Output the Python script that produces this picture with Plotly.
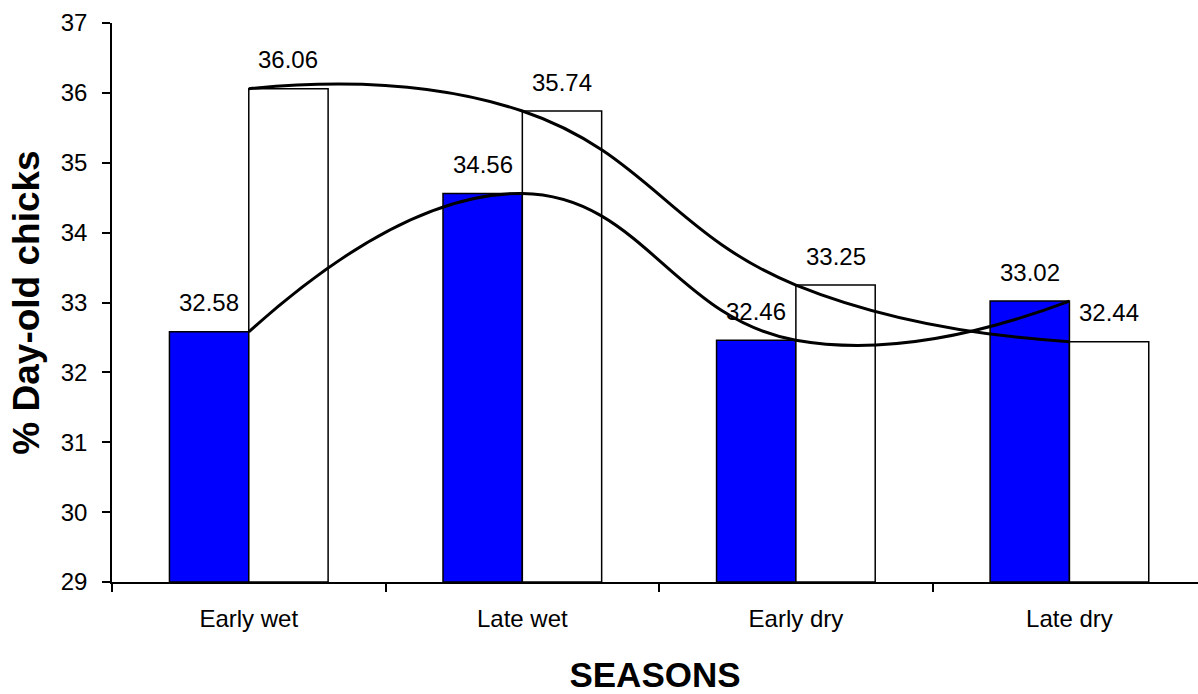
import plotly.graph_objects as go

# Season categories and the two series of day-old chick percentages
seasons = ["Early wet", "Late wet", "Early dry", "Late dry"]
series_a = [32.58, 34.56, 32.46, 33.02]   # blue bars
series_b = [36.06, 35.74, 33.25, 32.44]   # white bars

y_ticks = [29, 30, 31, 32, 33, 34, 35, 36, 37]
Y_BASE = 29

FONT = "Liberation Sans, Arial, sans-serif"
BAR_GAP = 0.42
half = (1 - BAR_GAP) / 4  # centre offset of each bar within its group

fig = go.Figure()

# bars rise from the bottom of the value axis
fig.add_trace(go.Bar(
    x=seasons, y=[v - Y_BASE for v in series_a], base=Y_BASE,
    marker=dict(color="#0000FF", line=dict(color="black", width=1.5)),
    showlegend=False,
))
fig.add_trace(go.Bar(
    x=seasons, y=[v - Y_BASE for v in series_b], base=Y_BASE,
    marker=dict(color="white", line=dict(color="black", width=1.5)),
    showlegend=False,
))

# smoothed trend curves through each series
for vals in (series_a, series_b):
    fig.add_trace(go.Scatter(
        x=seasons, y=vals, mode="lines",
        line=dict(color="black", width=3, shape="spline", smoothing=1.3),
        showlegend=False, hoverinfo="skip",
    ))

# value labels above each bar
annotations = []
for i, (a, b) in enumerate(zip(series_a, series_b)):
    for off, v in ((-half, a), (half, b)):
        annotations.append(dict(
            x=i + off, y=v, xref="x", yref="y", text=f"{v:.2f}",
            showarrow=False, yshift=29, yanchor="middle",
            font=dict(family=FONT, size=24, color="black"),
        ))

fig.update_layout(
    width=1198, height=694,
    margin=dict(l=112, r=0, t=23, b=112),
    paper_bgcolor="white", plot_bgcolor="white",
    barmode="group", bargap=BAR_GAP, bargroupgap=0,
    font=dict(family=FONT, size=24, color="black"),
    annotations=annotations,
    xaxis=dict(
        type="category", range=[-0.5, 3.47],
        showline=True, linecolor="black", linewidth=1.5,
        ticks="outside", tickson="boundaries", ticklen=8, tickwidth=1.5,
        tickcolor="black", ticklabelstandoff=14,
        showgrid=False, zeroline=False,
        tickfont=dict(family=FONT, size=24),
        title=dict(text="<b>SEASONS</b>", standoff=32,
                   font=dict(family=FONT, size=35)),
    ),
    yaxis=dict(
        range=[29, 37], tickvals=y_ticks,
        showline=True, linecolor="black", linewidth=1.5,
        ticks="outside", ticklen=8, tickwidth=1.5, tickcolor="black",
        ticklabelstandoff=10,
        showgrid=False, zeroline=False,
        tickfont=dict(family=FONT, size=24),
        title=dict(text="<b>% Day-old chicks</b>", standoff=10,
                   font=dict(family=FONT, size=37)),
    ),
)

fig.write_html("out.html")
